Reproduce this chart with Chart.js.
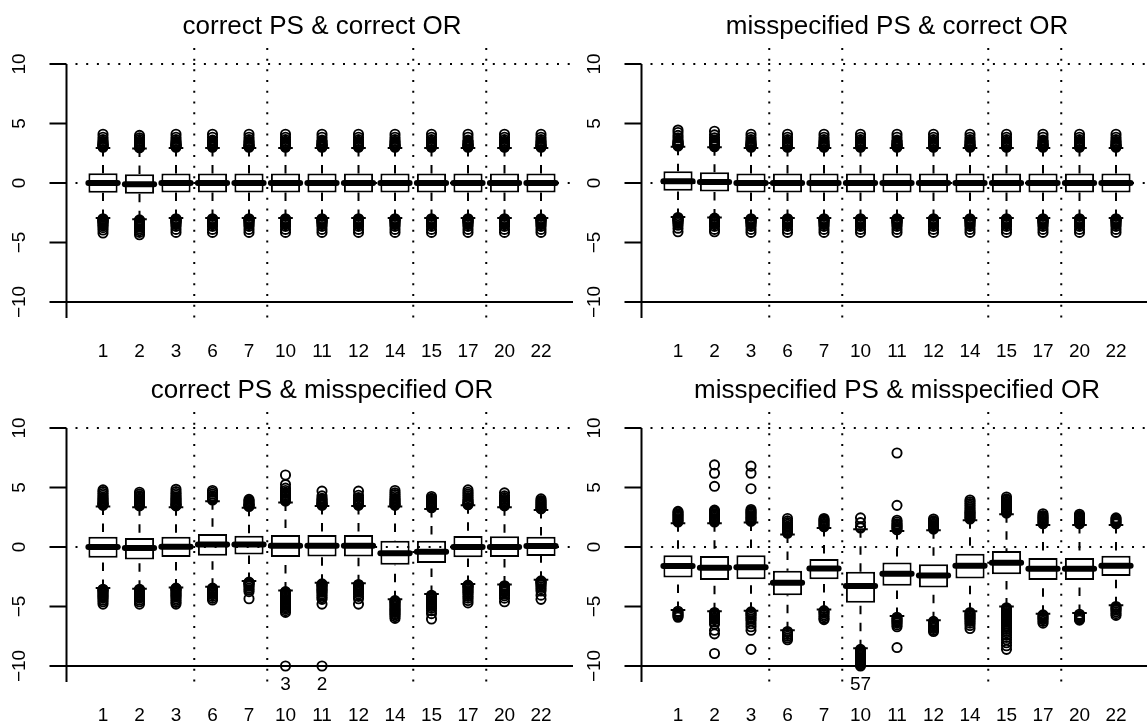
<!DOCTYPE html>
<html><head><meta charset="utf-8">
<script src="https://cdn.jsdelivr.net/npm/chart.js@4.4.1/dist/chart.umd.min.js"></script>
<style>
html,body{margin:0;padding:0;background:#fff;overflow:hidden;width:1147px;height:726px;}
.p{position:absolute;}
canvas{display:block;}
</style></head><body>
<div class="p" style="left:0;top:0"><canvas id="c0" width="573" height="363"></canvas></div>
<div class="p" style="left:575px;top:0"><canvas id="c1" width="572" height="363"></canvas></div>
<div class="p" style="left:0;top:364px"><canvas id="c2" width="573" height="362"></canvas></div>
<div class="p" style="left:575px;top:364px"><canvas id="c3" width="572" height="362"></canvas></div>
<script>
const categories = ['1','2','3','6','7','10','11','12','14','15','17','20','22'];
const yTickValues = [-10, -5, 0, 5, 10];
const yTickLabels = ['\u221210', '\u22125', '0', '5', '10'];
const titles = ['correct PS & correct OR', 'misspecified PS & correct OR',
                'correct PS & misspecified OR', 'misspecified PS & misspecified OR'];
const dottedH = [10, 0];
const dottedV = [2.5, 4.5, 8.5, 10.5];

// ---- panel A: correct PS & correct OR
const aQ1  = [-0.81,-0.90,-0.80,-0.80,-0.80,-0.80,-0.80,-0.80,-0.80,-0.80,-0.80,-0.80,-0.80];
const aMed = [0.00,-0.10,0.00,0.00,0.00,0.00,0.00,0.00,0.00,0.00,0.00,0.00,0.00];
const aQ3  = [0.81,0.73,0.80,0.80,0.80,0.80,0.80,0.80,0.80,0.80,0.80,0.80,0.80];
const aHi  = [2.95,2.90,2.95,2.95,2.95,2.95,2.95,2.95,2.95,2.95,2.95,2.95,2.95];
const aLo  = [-2.95,-3.05,-2.95,-2.95,-2.95,-2.95,-2.95,-2.95,-2.95,-2.95,-2.95,-2.95,-2.95];
const aOutHi = [
  [3.0,3.05,3.1,3.15,3.2,3.25,3.3,3.4,3.5,3.65,3.85,4.1],
  [2.95,3.0,3.05,3.1,3.15,3.2,3.3,3.4,3.5,3.65,3.8,4.0],
  [3.0,3.05,3.1,3.15,3.2,3.25,3.3,3.4,3.5,3.65,3.85,4.1],
  [3.0,3.05,3.1,3.15,3.2,3.25,3.3,3.4,3.5,3.6,3.85,4.1],
  [3.0,3.05,3.1,3.15,3.2,3.3,3.4,3.5,3.65,3.85,4.1],
  [3.0,3.05,3.1,3.15,3.2,3.25,3.3,3.4,3.5,3.65,3.85,4.1],
  [3.0,3.05,3.1,3.15,3.2,3.25,3.3,3.4,3.5,3.6,3.85,4.1],
  [3.0,3.05,3.1,3.15,3.2,3.25,3.3,3.4,3.5,3.65,3.85,4.1],
  [3.0,3.05,3.1,3.15,3.2,3.3,3.4,3.5,3.65,3.85,4.1],
  [3.0,3.05,3.1,3.15,3.2,3.25,3.3,3.4,3.5,3.65,3.85,4.1],
  [3.0,3.05,3.1,3.15,3.2,3.25,3.3,3.4,3.5,3.6,3.85,4.1],
  [3.0,3.05,3.1,3.15,3.2,3.25,3.3,3.4,3.5,3.65,3.85,4.1],
  [3.0,3.05,3.1,3.15,3.2,3.3,3.4,3.5,3.65,3.85,4.1]
];
const aOutLo = [
  [-3.0,-3.05,-3.1,-3.15,-3.2,-3.25,-3.3,-3.4,-3.5,-3.6,-3.75,-3.95,-4.2],
  [-3.1,-3.15,-3.2,-3.25,-3.3,-3.35,-3.4,-3.5,-3.6,-3.7,-3.85,-4.0,-4.15,-4.35],
  [-3.0,-3.05,-3.1,-3.15,-3.2,-3.25,-3.3,-3.4,-3.5,-3.65,-3.9,-4.15],
  [-3.0,-3.05,-3.1,-3.15,-3.2,-3.25,-3.3,-3.4,-3.5,-3.65,-3.9,-4.15],
  [-3.0,-3.05,-3.1,-3.15,-3.2,-3.3,-3.4,-3.5,-3.65,-3.9,-4.15],
  [-3.0,-3.05,-3.1,-3.15,-3.2,-3.25,-3.3,-3.4,-3.5,-3.65,-3.9,-4.15],
  [-3.0,-3.05,-3.1,-3.15,-3.2,-3.25,-3.3,-3.4,-3.5,-3.65,-3.9,-4.15],
  [-3.0,-3.05,-3.1,-3.15,-3.2,-3.25,-3.3,-3.4,-3.5,-3.65,-3.9,-4.15],
  [-3.0,-3.05,-3.1,-3.15,-3.2,-3.3,-3.4,-3.5,-3.65,-3.9,-4.15],
  [-3.0,-3.05,-3.1,-3.15,-3.2,-3.25,-3.3,-3.4,-3.5,-3.65,-3.9,-4.15],
  [-3.0,-3.05,-3.1,-3.15,-3.2,-3.25,-3.3,-3.4,-3.5,-3.65,-3.9,-4.15],
  [-3.0,-3.05,-3.1,-3.15,-3.2,-3.25,-3.3,-3.4,-3.5,-3.65,-3.9,-4.15],
  [-3.0,-3.05,-3.1,-3.15,-3.2,-3.3,-3.4,-3.5,-3.65,-3.9,-4.15]
];

// ---- panel B: misspecified PS & correct OR
const bQ1  = [-0.66,-0.72,-0.80,-0.80,-0.80,-0.80,-0.80,-0.80,-0.80,-0.80,-0.80,-0.80,-0.80];
const bMed = [0.15,0.08,0.00,0.00,0.00,0.00,0.00,0.00,0.00,0.00,0.00,0.00,0.00];
const bQ3  = [0.98,0.90,0.80,0.80,0.80,0.80,0.80,0.80,0.80,0.80,0.80,0.80,0.80];
const bHi  = [3.05,3.0,2.95,2.95,2.95,2.95,2.95,2.95,2.95,2.95,2.95,2.95,2.95];
const bLo  = [-2.85,-2.9,-2.95,-2.95,-2.95,-2.95,-2.95,-2.95,-2.95,-2.95,-2.95,-2.95,-2.95];
const bOutHi = [
  [3.1,3.15,3.2,3.25,3.3,3.35,3.4,3.5,3.6,3.8,4.0,4.25,4.45],
  [3.05,3.1,3.15,3.2,3.25,3.3,3.4,3.5,3.6,3.8,4.05,4.35],
  [3.0,3.05,3.1,3.15,3.2,3.25,3.3,3.4,3.5,3.65,3.85,4.1],
  [3.0,3.05,3.1,3.15,3.2,3.25,3.3,3.4,3.5,3.65,3.85,4.1],
  [3.0,3.05,3.1,3.15,3.2,3.3,3.4,3.5,3.65,3.85,4.1],
  [3.0,3.05,3.1,3.15,3.2,3.25,3.3,3.4,3.5,3.65,3.85,4.1],
  [3.0,3.05,3.1,3.15,3.2,3.25,3.3,3.4,3.5,3.6,3.85,4.1],
  [3.0,3.05,3.1,3.15,3.2,3.25,3.3,3.4,3.5,3.65,3.85,4.1],
  [3.0,3.05,3.1,3.15,3.2,3.3,3.4,3.5,3.65,3.85,4.1],
  [3.0,3.05,3.1,3.15,3.2,3.25,3.3,3.4,3.5,3.65,3.85,4.1],
  [3.0,3.05,3.1,3.15,3.2,3.25,3.3,3.4,3.5,3.6,3.85,4.1],
  [3.0,3.05,3.1,3.15,3.2,3.25,3.3,3.4,3.5,3.65,3.85,4.1],
  [3.0,3.05,3.1,3.15,3.2,3.3,3.4,3.5,3.65,3.85,4.1]
];
const bOutLo = [
  [-2.9,-2.95,-3.0,-3.05,-3.1,-3.15,-3.2,-3.3,-3.4,-3.55,-3.8,-4.1],
  [-2.95,-3.0,-3.05,-3.1,-3.15,-3.2,-3.3,-3.4,-3.5,-3.65,-3.9,-4.1],
  [-3.0,-3.05,-3.1,-3.15,-3.2,-3.25,-3.3,-3.4,-3.5,-3.65,-3.9,-4.15],
  [-3.0,-3.05,-3.1,-3.15,-3.2,-3.25,-3.3,-3.4,-3.5,-3.65,-3.9,-4.15],
  [-3.0,-3.05,-3.1,-3.15,-3.2,-3.3,-3.4,-3.5,-3.65,-3.9,-4.15],
  [-3.0,-3.05,-3.1,-3.15,-3.2,-3.25,-3.3,-3.4,-3.5,-3.65,-3.9,-4.15],
  [-3.0,-3.05,-3.1,-3.15,-3.2,-3.25,-3.3,-3.4,-3.5,-3.65,-3.9,-4.15],
  [-3.0,-3.05,-3.1,-3.15,-3.2,-3.25,-3.3,-3.4,-3.5,-3.65,-3.9,-4.15],
  [-3.0,-3.05,-3.1,-3.15,-3.2,-3.3,-3.4,-3.5,-3.65,-3.9,-4.15],
  [-3.0,-3.05,-3.1,-3.15,-3.2,-3.25,-3.3,-3.4,-3.5,-3.65,-3.9,-4.15],
  [-3.0,-3.05,-3.1,-3.15,-3.2,-3.25,-3.3,-3.4,-3.5,-3.65,-3.9,-4.15],
  [-3.0,-3.05,-3.1,-3.15,-3.2,-3.25,-3.3,-3.4,-3.5,-3.65,-3.9,-4.15],
  [-3.0,-3.05,-3.1,-3.15,-3.2,-3.3,-3.4,-3.5,-3.65,-3.9,-4.15]
];

// ---- panel C: correct PS & misspecified OR
const cQ1  = [-0.90,-1.05,-0.84,-0.74,-0.62,-0.85,-0.80,-0.80,-1.50,-1.35,-0.87,-0.85,-0.75];
const cMed = [0.00,-0.08,0.03,0.20,0.20,0.10,0.10,0.10,-0.53,-0.40,0.00,0.00,0.08];
const cQ3  = [0.87,0.75,0.87,1.10,0.95,1.00,1.00,1.00,0.53,0.53,0.92,0.90,0.87];
const cHi  = [3.40,3.35,3.35,3.85,3.30,3.75,3.45,3.45,3.40,3.20,3.50,3.35,3.10];
const cLo  = [-3.45,-3.50,-3.40,-3.35,-2.85,-3.65,-3.00,-3.05,-4.40,-3.95,-3.10,-3.15,-2.75];
const cOutHi = [
  [3.5,3.55,3.6,3.65,3.7,3.8,3.9,4.0,4.1,4.2,4.35,4.5,4.65,4.8],
  [3.45,3.5,3.55,3.6,3.7,3.8,3.9,4.0,4.1,4.2,4.3,4.45,4.6],
  [3.45,3.5,3.55,3.6,3.7,3.8,3.9,4.0,4.1,4.2,4.35,4.5,4.65,4.85],
  [3.95,4.0,4.05,4.1,4.2,4.3,4.45,4.6,4.75],
  [3.4,3.45,3.5,3.55,3.6,3.7,3.8,3.9,4.0],
  [3.85,3.9,3.95,4.0,4.1,4.2,4.3,4.4,4.5,4.6,4.75,4.95,5.25,6.05],
  [3.5,3.55,3.6,3.65,3.7,3.8,3.9,4.0,4.1,4.3,4.7],
  [3.5,3.55,3.6,3.65,3.7,3.8,3.9,4.0,4.15,4.35,4.7],
  [3.5,3.55,3.6,3.7,3.8,3.9,4.0,4.1,4.25,4.4,4.55,4.75],
  [3.3,3.35,3.4,3.5,3.6,3.7,3.8,3.9,4.0,4.1,4.25],
  [3.55,3.6,3.65,3.7,3.8,3.9,4.0,4.15,4.3,4.45,4.6,4.8],
  [3.45,3.5,3.55,3.6,3.7,3.8,3.9,4.0,4.15,4.3,4.55],
  [3.2,3.25,3.3,3.4,3.5,3.6,3.7,3.8,3.9,4.05]
];
const cOutLo = [
  [-3.55,-3.6,-3.65,-3.7,-3.8,-3.9,-4.0,-4.1,-4.2,-4.3,-4.45,-4.6,-4.8],
  [-3.55,-3.6,-3.65,-3.7,-3.8,-3.9,-4.0,-4.1,-4.2,-4.3,-4.45,-4.6,-4.8],
  [-3.45,-3.5,-3.55,-3.6,-3.7,-3.8,-3.9,-4.0,-4.1,-4.2,-4.35,-4.5,-4.65,-4.8],
  [-3.45,-3.5,-3.55,-3.6,-3.7,-3.8,-3.9,-4.0,-4.15,-4.3,-4.45],
  [-2.95,-3.0,-3.05,-3.1,-3.2,-3.3,-3.45,-3.6,-3.75,-4.35],
  [-3.75,-3.8,-3.85,-3.9,-4.0,-4.1,-4.2,-4.3,-4.4,-4.5,-4.6,-4.7,-4.8,-4.9,-5.0,-5.1,-5.2,-5.35,-5.5,-10],
  [-3.1,-3.15,-3.2,-3.3,-3.4,-3.5,-3.6,-3.7,-3.8,-3.95,-4.1,-4.25,-4.4,-4.8,-10],
  [-3.15,-3.2,-3.25,-3.3,-3.4,-3.5,-3.6,-3.7,-3.8,-3.95,-4.15,-4.35,-4.8],
  [-4.5,-4.55,-4.6,-4.7,-4.8,-4.9,-5.0,-5.1,-5.2,-5.3,-5.4,-5.5,-5.6,-5.7,-5.85,-6.0],
  [-4.05,-4.1,-4.15,-4.2,-4.3,-4.4,-4.5,-4.6,-4.7,-4.8,-4.9,-5.0,-5.15,-5.35,-5.6,-6.05],
  [-3.2,-3.25,-3.3,-3.35,-3.45,-3.55,-3.65,-3.75,-3.85,-4.0,-4.15,-4.3,-4.5,-4.7],
  [-3.25,-3.3,-3.35,-3.4,-3.5,-3.6,-3.7,-3.8,-3.95,-4.1,-4.3,-4.6],
  [-2.85,-2.9,-2.95,-3.0,-3.1,-3.2,-3.35,-3.5,-3.7,-4.05,-4.4]
];
const cNotes = ['', '', '', '', '', '3', '2', '', '', '', '', '', ''];

// ---- panel D: misspecified PS & misspecified OR
const dQ1  = [-2.56,-2.78,-2.72,-4.05,-2.70,-4.68,-3.25,-3.40,-2.64,-2.30,-2.78,-2.78,-2.44];
const dMed = [-1.60,-1.74,-1.70,-3.00,-1.80,-3.28,-2.25,-2.40,-1.57,-1.32,-1.83,-1.83,-1.57];
const dQ3  = [-0.70,-0.76,-0.70,-2.00,-1.00,-2.07,-1.30,-1.46,-0.56,-0.34,-0.93,-0.93,-0.73];
const dHi  = [2.00,2.00,2.05,1.05,1.60,1.50,1.35,1.40,2.25,2.75,1.85,1.85,1.85];
const dLo  = [-5.30,-5.40,-5.35,-7.00,-5.25,-8.50,-5.80,-6.15,-5.40,-5.00,-5.60,-5.55,-4.90];
const dOutHi = [
  [2.1,2.2,2.3,2.4,2.5,2.6,2.7,2.8,2.9,3.0],
  [2.1,2.2,2.3,2.4,2.5,2.6,2.7,2.8,2.9,3.0,3.1,5.1,6.2,6.9],
  [2.15,2.25,2.35,2.45,2.55,2.65,2.75,2.85,2.95,3.05,3.15,4.9,6.2,6.8],
  [1.15,1.25,1.35,1.45,1.55,1.65,1.75,1.9,2.05,2.2,2.4],
  [1.7,1.8,1.9,2.0,2.1,2.2,2.3,2.4],
  [1.6,1.7,2.05,2.45],
  [1.45,1.55,1.65,1.75,1.85,1.95,2.1,2.25,3.5,7.9],
  [1.5,1.6,1.7,1.8,1.9,2.0,2.1,2.2,2.35],
  [2.35,2.45,2.55,2.65,2.75,2.85,2.95,3.05,3.2,3.35,3.5,3.65,3.8,3.95],
  [2.85,2.95,3.05,3.15,3.25,3.35,3.45,3.55,3.65,3.75,3.85,3.95,4.05,4.2],
  [1.95,2.05,2.15,2.25,2.35,2.45,2.55,2.65,2.8],
  [1.95,2.05,2.15,2.25,2.35,2.45,2.55,2.65,2.75],
  [1.95,2.05,2.15,2.25,2.35,2.45]
];
const dOutLo = [
  [-5.4,-5.5,-5.6,-5.7,-5.8,-5.9],
  [-5.5,-5.6,-5.7,-5.8,-5.9,-6.0,-6.1,-6.3,-6.5,-7.0,-7.3,-8.95],
  [-5.45,-5.55,-5.65,-5.75,-5.9,-6.05,-6.2,-6.45,-6.7,-7.0,-8.6],
  [-7.1,-7.2,-7.35,-7.5,-7.65,-7.8],
  [-5.35,-5.45,-5.55,-5.7,-5.85,-6.0,-6.1],
  [-8.6,-8.7,-8.8,-8.9,-9.0,-9.1,-9.2,-9.3,-9.4,-9.5,-9.6,-9.7,-9.8,-9.9,-10],
  [-5.9,-6.0,-6.1,-6.2,-6.3,-6.4,-6.55,-6.7,-8.45],
  [-6.25,-6.35,-6.45,-6.55,-6.65,-6.75,-6.85,-7.0,-7.1],
  [-5.5,-5.6,-5.7,-5.8,-5.9,-6.0,-6.1,-6.25,-6.4,-6.6,-6.85],
  [-5.1,-5.2,-5.3,-5.4,-5.5,-5.6,-5.7,-5.8,-5.9,-6.0,-6.1,-6.2,-6.3,-6.45,-6.6,-6.75,-6.9,-7.05,-7.2,-7.4,-7.6,-7.8,-8.05,-8.3,-8.6],
  [-5.7,-5.8,-5.9,-6.0,-6.1,-6.25,-6.4],
  [-5.65,-5.75,-5.85,-5.95,-6.05,-6.15],
  [-5.0,-5.1,-5.2,-5.3,-5.45,-5.6,-5.75]
];
const dNotes = ['', '', '', '', '', '57', '', '', '', '', '', '', ''];

const panels = [
  {id:'c0', title:titles[0], q1:aQ1, med:aMed, q3:aQ3, hi:aHi, lo:aLo, outHi:aOutHi, outLo:aOutLo, notes:null},
  {id:'c1', title:titles[1], q1:bQ1, med:bMed, q3:bQ3, hi:bHi, lo:bLo, outHi:bOutHi, outLo:bOutLo, notes:null},
  {id:'c2', title:titles[2], q1:cQ1, med:cMed, q3:cQ3, hi:cHi, lo:cLo, outHi:cOutHi, outLo:cOutLo, notes:cNotes},
  {id:'c3', title:titles[3], q1:dQ1, med:dMed, q3:dQ3, hi:dHi, lo:dLo, outHi:dOutHi, outLo:dOutLo, notes:dNotes}
];

const FONT = '"Liberation Sans", Arial, Helvetica, sans-serif';

function rPlugin(p) {
  return {
    id: 'rbox',
    beforeDatasetsDraw(chart) {
      const ctx = chart.ctx, x = chart.scales.x, y = chart.scales.y;
      const bw = (x.getPixelForValue(1) - x.getPixelForValue(0)) * 0.8;
      ctx.save();
      ctx.strokeStyle = '#000';
      ctx.lineWidth = 2;
      p.q1.forEach((q1, i) => {
        const cx = x.getPixelForValue(i);
        // whiskers run from the whisker end towards the hinge (dashed)
        ctx.setLineDash([8.5, 8.5]);
        ctx.beginPath();
        ctx.moveTo(cx, y.getPixelForValue(p.hi[i])); ctx.lineTo(cx, y.getPixelForValue(p.q3[i]));
        ctx.stroke();
        ctx.beginPath();
        ctx.moveTo(cx, y.getPixelForValue(p.lo[i])); ctx.lineTo(cx, y.getPixelForValue(q1));
        ctx.stroke();
        ctx.setLineDash([]);
        ctx.beginPath();
        [p.hi[i], p.lo[i]].forEach(v => {
          const yy = y.getPixelForValue(v);
          ctx.moveTo(cx - bw / 4, yy); ctx.lineTo(cx + bw / 4, yy);
        });
        ctx.stroke();
      });
      ctx.restore();
    },
    afterDatasetsDraw(chart) {
      const ctx = chart.ctx, x = chart.scales.x, y = chart.scales.y;
      const bw = (x.getPixelForValue(1) - x.getPixelForValue(0)) * 0.8;
      const xl = x.getPixelForValue(-1), xr = x.getPixelForValue(categories.length);
      const y10 = y.getPixelForValue(-10);
      ctx.save();
      // medians
      ctx.strokeStyle = '#000';
      ctx.lineWidth = 6;
      ctx.lineCap = 'round';
      p.med.forEach((m, i) => {
        const cx = x.getPixelForValue(i), yy = y.getPixelForValue(m);
        ctx.beginPath(); ctx.moveTo(cx - bw / 2, yy); ctx.lineTo(cx + bw / 2, yy); ctx.stroke();
      });
      ctx.lineCap = 'butt';
      // dotted reference lines
      ctx.lineWidth = 2;
      ctx.setLineDash([2, 8.7]);
      dottedH.forEach(v => {
        const yy = y.getPixelForValue(v);
        ctx.beginPath(); ctx.moveTo(xl + 9, yy); ctx.lineTo(xr, yy); ctx.stroke();
      });
      dottedV.forEach(v => {
        const xx = x.getPixelForValue(v);
        ctx.beginPath(); ctx.moveTo(xx, chart.chartArea.top); ctx.lineTo(xx, chart.chartArea.bottom); ctx.stroke();
      });
      ctx.setLineDash([]);
      // axes
      ctx.lineWidth = 2;
      ctx.beginPath();
      ctx.moveTo(xl, y.getPixelForValue(yTickValues[yTickValues.length - 1]));
      ctx.lineTo(xl, y10 + 16);
      ctx.moveTo(xl - 17, y10); ctx.lineTo(xr, y10);
      ctx.moveTo(xr, y10); ctx.lineTo(xr, y10 + 16);
      yTickValues.forEach(v => {
        const yy = y.getPixelForValue(v);
        ctx.moveTo(xl, yy); ctx.lineTo(xl - 17, yy);
      });
      ctx.stroke();
      // y tick labels (rotated)
      ctx.fillStyle = '#000';
      ctx.font = '19px ' + FONT;
      ctx.textAlign = 'center';
      ctx.textBaseline = 'middle';
      yTickValues.forEach((v, k) => {
        ctx.save();
        ctx.translate(xl - 47, y.getPixelForValue(v));
        ctx.rotate(-Math.PI / 2);
        ctx.fillText(yTickLabels[k], 0, 0);
        ctx.restore();
      });
      // x tick labels
      categories.forEach((c, i) => {
        ctx.fillText(c, x.getPixelForValue(i), y10 + 50);
      });
      // notes for values beyond the lower limit
      if (p.notes) {
        p.notes.forEach((t, i) => {
          if (t) ctx.fillText(t, x.getPixelForValue(i), y10 + 19);
        });
      }
      // title
      ctx.font = '26px ' + FONT;
      ctx.textBaseline = 'alphabetic';
      ctx.fillText(p.title, (xl + xr) / 2, 34);
      ctx.restore();
    }
  };
}

panels.forEach(p => {
  const canvas = document.getElementById(p.id);
  const H = canvas.height;
  const pts = [];
  categories.forEach((c, i) => {
    p.outHi[i].forEach(v => pts.push({x: c, y: v}));
    p.outLo[i].forEach(v => pts.push({x: c, y: v}));
  });
  const padLeft = 84.75, step = 36.5;
  const padRight = canvas.width - (padLeft + categories.length * step);
  const yMax = 11.35, yMin = -12, pxPerUnit = 11.9, zeroPx = 183;
  const padTop = zeroPx - yMax * pxPerUnit;
  const padBottom = H - (zeroPx - yMin * pxPerUnit);
  new Chart(canvas, {
    type: 'bar',
    data: {
      labels: categories,
      datasets: [
        {
          type: 'line', data: pts, showLine: false,
          pointStyle: 'circle', pointRadius: 4.6, pointHoverRadius: 4.6,
          pointBorderWidth: 1.9, pointBorderColor: '#000',
          pointBackgroundColor: 'rgba(0,0,0,0)', order: 0
        },
        {
          type: 'bar', data: p.q1.map((v, i) => [v, p.q3[i]]),
          backgroundColor: '#fff', borderColor: '#000', borderWidth: 2,
          borderSkipped: false, barPercentage: 0.8, categoryPercentage: 1,
          grouped: false, order: 1
        }
      ]
    },
    options: {
      responsive: false, animation: false, events: [],
      layout: {padding: {left: padLeft, right: padRight, top: padTop, bottom: padBottom}},
      scales: {
        x: {type: 'category', display: false, offset: true, grid: {display: false}},
        y: {type: 'linear', display: false, min: yMin, max: yMax}
      },
      plugins: {legend: {display: false}, tooltip: {enabled: false}, title: {display: false}}
    },
    plugins: [rPlugin(p)]
  });
});
</script>
</body></html>
